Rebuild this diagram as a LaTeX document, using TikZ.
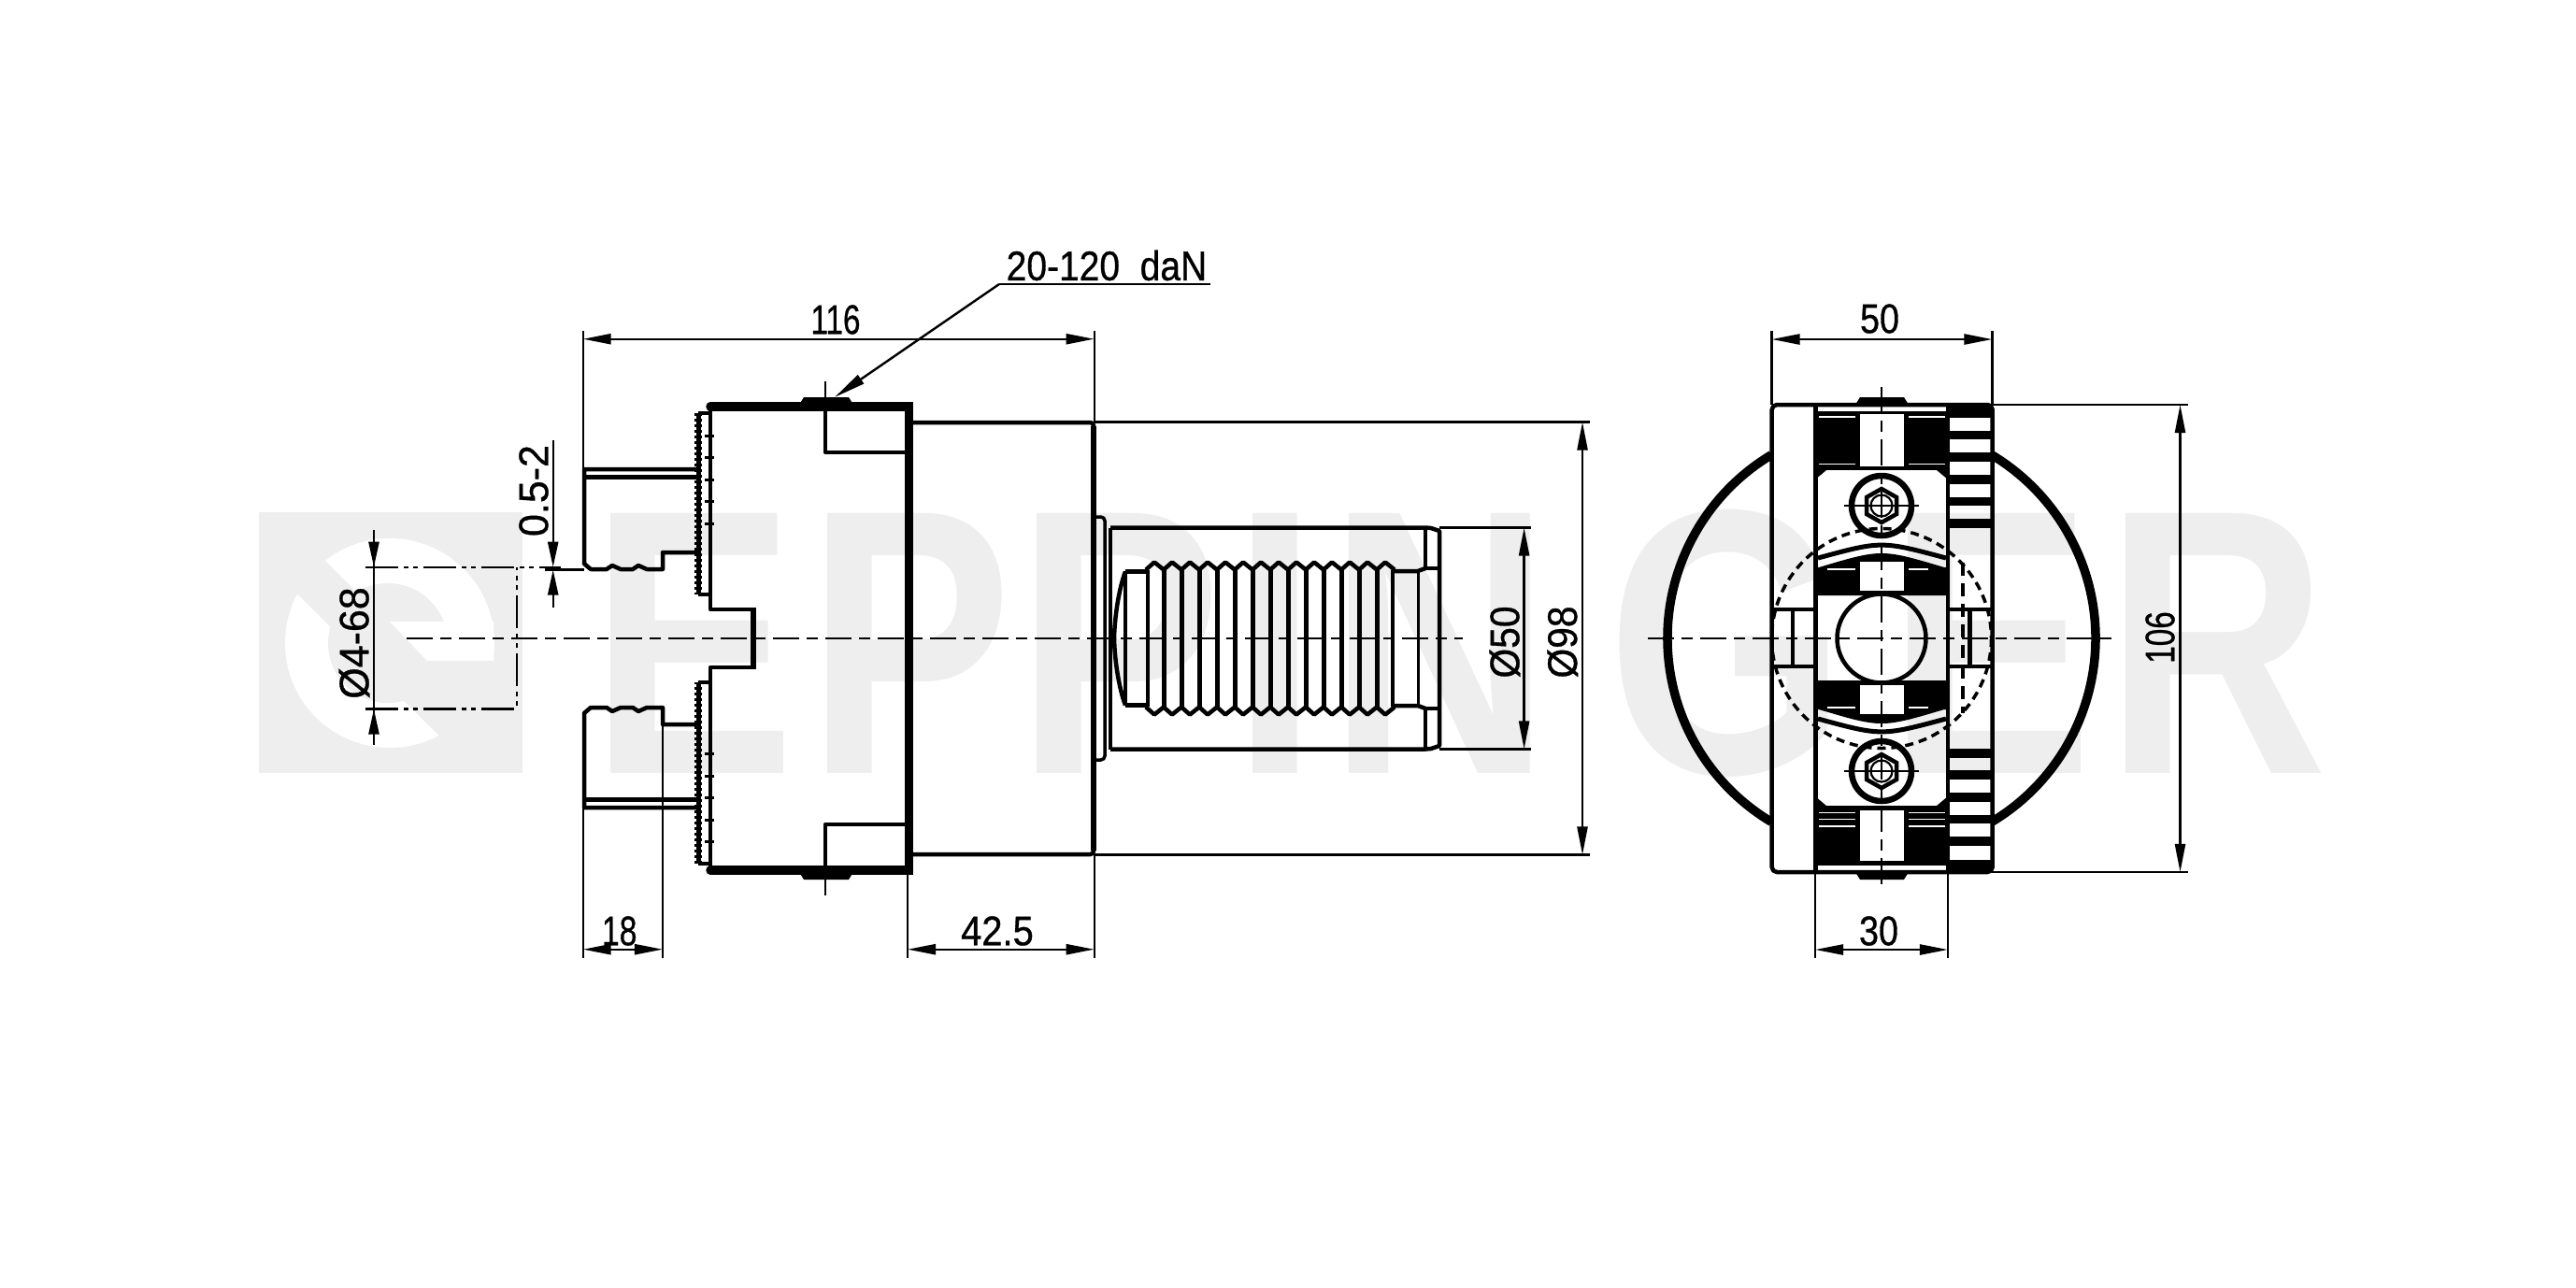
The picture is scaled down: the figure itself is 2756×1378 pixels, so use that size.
\documentclass[tikz,border=0pt]{standalone}
\usepackage{fontspec}
\setmainfont{Liberation Sans}
\newfontfamily\dimfont{Liberation Sans}[RawFeature={embolden=0.8}]
\usetikzlibrary{arrows.meta}
\definecolor{wm}{HTML}{EEEEEE}
\tikzset{
  dimline/.style={line width=.24mm,black},
  dimarrow/.style={dimline,{Triangle[length=3mm,width=1.1mm]}-{Triangle[length=3mm,width=1.1mm]}},
  tipend/.style={dimline,-{Triangle[length=2.7mm,width=1.1mm]}},
  extline/.style={line width=.22mm,black},
  axisline/.style={line width=.22mm,black,dash pattern=on 2.8mm off .8mm on 1.2mm off .8mm},
  phantomline/.style={line width=.24mm,black,dash pattern=on 3.5mm off .6mm on .5mm off .5mm on .5mm off .6mm},
  mid/.style={line width=.45mm,black,line join=round},
  heavy/.style={line width=.95mm,black,line join=round},
  dimtext/.style={inner sep=0pt,font=\fontsize{12.6}{12.6}\dimfont},
}
\newcommand{\sx}[2]{\scalebox{#1}[1]{#2}}
\newcommand{\headhalf}{%
  \draw[heavy,line cap=round] (760,435)--(972,435);
  \draw[mid] (760,435)--(760,652)--(804,652);
  \draw[line width=.65mm] (806,650)--(806,683);
  \draw[mid] (883,435)--(883,484)--(970,484);
  \fill (855,433)--(860,425)--(908,425)--(913,433)--cycle;
  \draw[extline] (883,408)--(883,430);
  \draw[line width=.5mm] (747,442)--(747,636);
  \draw[line width=.75mm,dash pattern=on .3mm off .3mm] (747,442)--(747,636);
  \draw[line width=.4mm] (747,442)--(760,442) (747,636)--(760,636);
  \foreach \ty in {466,489,513,536,560}{\draw[line width=.3mm] (754,\ty)--(764,\ty);}
  \draw[mid] (747,591)--(709,591)--(709,609)--(692,609)--(683,605)--(677,609)--(664,609)--(655,605)--(649,609)--(632,609)--(625,603)--(625,502)--(747,502);
  \draw[mid] (625,510.5)--(747,510.5);
  \draw[mid,rounded corners=1pt] (975,452)--(1170,452)--(1170,683);
  \draw[line width=.55mm] (1170,456)--(1170,683);
  \draw[line width=.35mm,rounded corners=1.2pt] (1173,553)--(1182,553)--(1182,683);
  \draw[mid] (1188,564.5)--(1525,564.5)--(1531,565)--(1540,568)--(1540,683);
  \draw[mid] (1188,564.5)--(1188,683);
  \draw[mid] (1525,564.5)--(1525,608)--(1540,608);
  \draw[mid] (1204,611.5)--(1228,611.5);
  \draw[mid] (1490,611)--(1517,611)--(1525,608);
  \draw[mid] (1204,611.5) .. controls (1197,630) and (1192.5,660) .. (1192,683);
  \foreach \k in {0,...,13}{%
    \pgfmathsetmacro{\pa}{1235+19*\k}%
    \pgfmathsetmacro{\pb}{1245+19*\k}%
    \pgfmathsetmacro{\pc}{1226+19*\k}%
    \draw[mid] (\pc,609.5)--(\pa,601.5)--(\pb,609.5);
  }
}
\newcommand{\screw}[1]{%
  \draw[line width=.65mm] (2013,#1) circle[radius=32];
  \draw[line width=.45mm] (2013,#1-18)--(2029,#1-9)--(2029,#1+9)--(2013,#1+18)--(1997,#1+9)--(1997,#1-9)--cycle;
  \draw[line width=.22mm] (2013,#1) circle[radius=11.5];
  \draw[extline] (1973,#1)--(2053,#1);
  \draw[extline] (2006,#1)--(2020,#1);
}
\newcommand{\mirrorpart}[1]{%
  #1
  \begin{scope}[shift={(0,1366)},yscale=-1]#1\end{scope}
}
\begin{document}
\begin{tikzpicture}[x=.01cm,y=-.01cm]
\useasboundingbox (0,0) rectangle (2756,1378);
\fill[white] (0,0) rectangle (2756,1378);
\fill[wm] (277,548) rectangle (559,827);
\fill[white] (417,688) circle[radius=112];
\fill[wm] (415,688) circle[radius=64];
\fill[white] (417,665)--(528,665)--(528,707)--(457,707)--cycle;
\fill[wm] (432,750)--(470,787)--(535,787)--(535,707)--(457,707)--cycle;
\fill[wm] (318,570)--(385,637)--(353,670)--(290,607)--cycle;
\node[anchor=base west,inner sep=0pt,text=wm] (wmark) at (631,827)
  {\scalebox{.815}[1]{\fontsize{115}{115}\selectfont\bfseries E\kern4.2pt P\kern1.4pt P\kern3.9pt I\kern3.9pt N\kern20.9pt G\kern15.6pt E\kern4.6pt R}};
\mirrorpart{\headhalf}
\draw[line width=.95mm] (972.7,430)--(972.7,936);
\draw[line width=.35mm] (1204,611)--(1204,755);
\draw[mid] (1228,610)--(1228,756);
\foreach \k in {0,...,12}{\pgfmathsetmacro{\pb}{1245+19*\k}\draw[line width=.5mm] (\pb,609)--(\pb,757);}
\draw[mid] (1490,610)--(1490,756);
\draw[line width=.35mm] (1517.7,611)--(1517.7,755);
\draw[axisline] (435,683)--(1565,683);
\draw[phantomline] (391,606.7)--(600,606.7);
\draw[phantomline] (391,758.5)--(553,758.5)--(553,606.7);
\draw[extline] (583,609.5)--(625,609.5);
\draw[dimline] (400,566.7)--(400,797);
\draw[tipend] (400,570)--(400,606.7);
\draw[tipend] (400,795)--(400,758.5);
\node[dimtext,rotate=90] (d468) at (379,688) {\sx{.97}{Ø4-68}};
\draw[tipend] (591.7,471)--(591.7,606.7);
\draw[tipend] (591.7,650)--(591.7,609.5);
\node[dimtext,rotate=90] (d05) at (571,525) {\sx{.97}{0.5-2}};
\draw[extline] (623.7,354)--(623.7,502);
\draw[extline] (1170.7,354)--(1170.7,452);
\draw[dimarrow] (623.7,362.7)--(1170.7,362.7);
\node[dimtext] (d116) at (894,342) {\sx{.75}{116}};
\coordinate (lstart) at (1069,304);
\coordinate (lend) at (1295,304);
\coordinate (ltip) at (893,425);
\draw[dimline] (lend)--(lstart);
\draw[dimline,-{Triangle[length=3.4mm,width=1.1mm]}] (lstart)--(ltip);
\node[dimtext] (dforce) at (1184,284) {\sx{.88}{20-120\ \ daN}};
\draw[extline] (623.7,864)--(623.7,1025);
\draw[extline] (709,775)--(709,1025);
\draw[dimarrow] (623.7,1015.7)--(709,1015.7);
\node[dimtext] (d18) at (662.7,996) {\sx{.76}{18}};
\draw[extline] (971,931)--(971,1025);
\draw[extline] (1170.7,914)--(1170.7,1025);
\draw[dimarrow] (971,1015.7)--(1170.7,1015.7);
\node[dimtext] (d425) at (1067,996) {\sx{.9}{42.5}};
\draw[extline] (1540,564.5)--(1638,564.5);
\draw[extline] (1540,801.5)--(1638,801.5);
\draw[dimarrow] (1630.6,564.5)--(1630.6,801.5);
\node[dimtext,rotate=90] (d50) at (1610,687) {\sx{.92}{Ø50}};
\draw[extline] (1170,451.5)--(1700.7,451.5);
\draw[extline] (1170,914.5)--(1700.7,914.5);
\draw[dimarrow] (1693,451.5)--(1693,914.5);
\node[dimtext,rotate=90] (d98) at (1671.7,687) {\sx{.92}{Ø98}};
\draw[heavy] (2013,683) ++(59:229) arc[start angle=59,end angle=-59,radius=229];
\draw[heavy] (2013,683) ++(121:229) arc[start angle=121,end angle=239,radius=229];
\fill (1942,440) rectangle (2084,503);
\fill (1942,862) rectangle (2084,926);
\fill (1942,503)--(1954,503)--(1942,513)--cycle (2084,503)--(2072,503)--(2084,513)--cycle;
\fill (1942,862)--(1954,862)--(1942,852)--cycle (2084,862)--(2072,862)--(2084,852)--cycle;
\fill[white] (1990,443) rectangle (2037,499);
\fill[white] (1990,867) rectangle (2037,921);
\foreach \wy in {446,496.7}{\draw[white,line width=.12mm] (1946,\wy)--(1985,\wy) (2042,\wy)--(2081,\wy);}
\foreach \wy in {869.3,876.7,884}{\draw[white,line width=.12mm] (1946,\wy)--(1985,\wy) (2042,\wy)--(2081,\wy);}
\fill (1942,637)--(1942,607)--(1946,607) .. controls (2013,587) .. (2080,607)--(2084,607)--(2084,637)--cycle;
\fill (1942,728)--(1942,759)--(1946,759) .. controls (2013,779) .. (2080,759)--(2084,759)--(2084,728)--cycle;
\draw[line width=.5mm] (1945,597) .. controls (2013,578.5) .. (2082,597);
\draw[line width=.5mm] (1945,769) .. controls (2013,787.5) .. (2082,769);
\fill[white] (1990,601) rectangle (2037,632.3);
\fill[white] (1990,733) rectangle (2037,764);
\draw[white,line width=.12mm] (1955,609)--(1985,609) (2042,609)--(2063,609);
\draw[white,line width=.12mm] (1955,757)--(1985,757) (2042,757)--(2063,757);
\foreach \ya/\yb in {435/447,461/470,484/494,508/518,532/541,555/565,801/811,824/834,848/858,872/881,895/905,920/932}{\fill (2085,\ya) rectangle (2131,\yb);}
\draw[mid,line width=.48mm] (1942.7,433)--(1942.7,933);
\draw[mid,line width=.48mm] (2084,433)--(2084,933);
\draw[mid,rounded corners=1.5pt] (1895.7,433) rectangle (2131.7,933);
\fill (1985,433)--(1990,425)--(2037,425)--(2042,433)--cycle;
\fill (1985,933)--(1990,941)--(2037,941)--(2042,933)--cycle;
\draw[mid] (1897,652)--(1942,652) (1897,713)--(1942,713) (1918,652)--(1918,713);
\draw[mid] (2084,652)--(2130,652) (2084,713)--(2130,713) (2107.7,652)--(2107.7,713);
\draw[line width=.45mm] (2013,683) circle[radius=47.5];
\draw[line width=.35mm,dash pattern=on .9mm off .6mm] (2013,683) circle[radius=117.5];
\draw[line width=.4mm,dash pattern=on 1.4mm off .8mm] (2100,602)--(2100,763);
\screw{541}
\screw{825}
\draw[axisline] (1763,683.3)--(2263,683.3);
\draw[axisline] (2012.7,414)--(2012.7,952);
\draw[extline] (1895.5,354)--(1895.5,433);
\draw[extline] (2131.5,354)--(2131.5,433);
\draw[dimarrow] (1895.5,363)--(2131.5,363);
\node[dimtext] (d50b) at (2011,341) {\sx{.85}{50}};
\draw[extline] (1942,933)--(1942,1025);
\draw[extline] (2084,933)--(2084,1025);
\draw[dimarrow] (1942,1016)--(2084,1016);
\node[dimtext] (d30) at (2010,996) {\sx{.85}{30}};
\draw[extline] (2131,433)--(2341,433);
\draw[extline] (2131,933)--(2341,933);
\draw[dimarrow] (2332.5,433)--(2332.5,933);
\node[dimtext,rotate=90] (d106) at (2311,682) {\sx{.75}{106}};
\end{tikzpicture}
\end{document}
